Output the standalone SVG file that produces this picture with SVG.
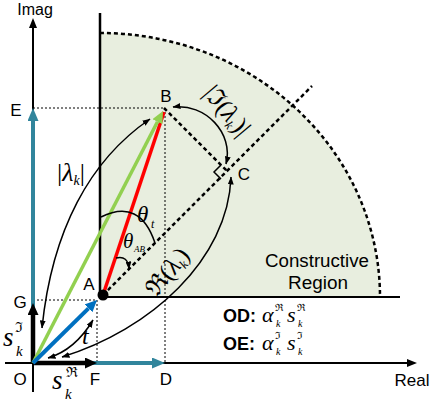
<svg xmlns="http://www.w3.org/2000/svg" width="432" height="403" viewBox="0 0 432 403">
<style>
.sans{font-family:"Liberation Sans",Arial,sans-serif;fill:#000}
.lbl{font-size:17px}
.m{font-family:"Liberation Serif","DejaVu Serif",serif;font-style:italic;fill:#000}
.fr{font-family:"DejaVu Serif","Liberation Serif",serif;font-style:normal;fill:#000}
.thin{fill:none;stroke:#000;stroke-width:1.5}
.dot{fill:none;stroke:#000;stroke-width:1;stroke-dasharray:2,2}
.dash{fill:none;stroke:#000;stroke-width:2.5;stroke-dasharray:4,3}
</style>
<defs>
<marker id="ahAxis" markerUnits="userSpaceOnUse" markerWidth="10" markerHeight="8" refX="0" refY="4" orient="auto"><path d="M0,0 L10,4 L0,8 z" fill="#000"/></marker>
<marker id="ahTeal" markerUnits="userSpaceOnUse" markerWidth="13" markerHeight="11" refX="0" refY="5.5" orient="auto"><path d="M0,0 L13,5.5 L0,11 z" fill="#31859c"/></marker>
<marker id="ahBlack" markerUnits="userSpaceOnUse" markerWidth="12" markerHeight="11" refX="0" refY="5.5" orient="auto"><path d="M0,0 L12,5.5 L0,11 z" fill="#000"/></marker>
<marker id="ahBlue" markerUnits="userSpaceOnUse" markerWidth="12" markerHeight="11" refX="0" refY="5.5" orient="auto"><path d="M0,0 L12,5.5 L0,11 z" fill="#0070c0"/></marker>
<marker id="ahGreen" markerUnits="userSpaceOnUse" markerWidth="12" markerHeight="11" refX="0" refY="5.5" orient="auto"><path d="M0,0 L12,5.5 L0,11 z" fill="#92d050"/></marker>
<marker id="ahThin" markerUnits="userSpaceOnUse" markerWidth="8" markerHeight="6" refX="7.5" refY="3" orient="auto-start-reverse"><path d="M0,0 L8,3 L0,6 z" fill="#000"/></marker>
</defs>

<g id="region">
<path d="M100,297 L100,33 A280,264 0 0 1 380,297 Z" fill="#e8eedf"/>
<path d="M100,33 A280,264 0 0 1 380,297" class="dash"/>
<line x1="100" y1="13" x2="100" y2="297" stroke="#000" stroke-width="2.5"/>
<line x1="100" y1="297" x2="400" y2="297" stroke="#000" stroke-width="2"/>
<text class="sans" x="317" y="267" font-size="18" text-anchor="middle" textLength="104" lengthAdjust="spacingAndGlyphs">Constructive</text>
<text class="sans" x="318" y="289" font-size="18" text-anchor="middle" textLength="60" lengthAdjust="spacingAndGlyphs">Region</text>
</g>

<g id="guides">
<line x1="103" y1="295" x2="312" y2="86" class="dash"/>
<line x1="164" y1="108" x2="228" y2="172" class="dash"/>
<path d="M221,165 L214,172 L221,179" fill="none" stroke="#000" stroke-width="1.5"/>
<line x1="33" y1="108" x2="164" y2="108" class="dot"/>
<line x1="165" y1="108" x2="165" y2="363" class="dot"/>
<line x1="33" y1="300" x2="97" y2="300" class="dot"/>
<line x1="97" y1="300" x2="97" y2="363" class="dot"/>
</g>

<g id="axes">
<line x1="33" y1="392" x2="33" y2="28" stroke="#000" stroke-width="2" marker-end="url(#ahAxis)"/>
<line x1="5" y1="363" x2="407" y2="363" stroke="#000" stroke-width="2" marker-end="url(#ahAxis)"/>
<text class="sans" x="35" y="15" font-size="16" text-anchor="middle">Imag</text>
<text class="sans lbl" x="412" y="386" text-anchor="middle">Real</text>
</g>

<g id="connectors">
<line x1="33" y1="363" x2="33" y2="121" stroke="#31859c" stroke-width="4" marker-end="url(#ahTeal)"/>
<line x1="33" y1="363" x2="152" y2="363" stroke="#31859c" stroke-width="4" marker-end="url(#ahTeal)"/>
<line x1="33" y1="363" x2="33" y2="315" stroke="#000" stroke-width="4.5" marker-end="url(#ahBlack)"/>
<line x1="33" y1="363" x2="85" y2="363" stroke="#000" stroke-width="4.5" marker-end="url(#ahBlack)"/>
<line x1="103" y1="295" x2="164" y2="112" stroke="#ff0000" stroke-width="3.5"/>
<line x1="33" y1="363" x2="157.5" y2="121.7" stroke="#92d050" stroke-width="3.5" marker-end="url(#ahGreen)"/>
<line x1="33" y1="363" x2="88.5" y2="308.4" stroke="#0070c0" stroke-width="4" marker-end="url(#ahBlue)"/>
<path d="M42,328 C52,230 90,160 150,119" class="thin" marker-start="url(#ahThin)" marker-end="url(#ahThin)"/>
<path d="M62,357 C150,330 228,260 231,177" class="thin" marker-start="url(#ahThin)" marker-end="url(#ahThin)"/>
<path d="M48,358 Q75,350 93,320" class="thin" marker-start="url(#ahThin)" marker-end="url(#ahThin)"/>
<path d="M173,107 C205,103 234,133 226,164" class="thin" marker-start="url(#ahThin)" marker-end="url(#ahThin)"/>
<path d="M101,217 Q140,198 155,243" class="thin"/>
<path d="M116,258 Q128,255 129,269" class="thin" marker-end="url(#ahThin)"/>
</g>

<g id="A"><circle cx="103" cy="295" r="5.5" fill="#000"/><text class="sans lbl" x="89" y="290" text-anchor="middle">A</text></g>
<g id="B"><text class="sans lbl" x="166" y="102" text-anchor="middle">B</text></g>
<g id="C"><text class="sans lbl" x="244" y="180" text-anchor="middle">C</text></g>
<g id="D"><text class="sans lbl" x="166" y="385" text-anchor="middle">D</text></g>
<g id="E"><text class="sans lbl" x="16" y="116" text-anchor="middle">E</text></g>
<g id="F"><text class="sans lbl" x="95" y="385" text-anchor="middle">F</text></g>
<g id="G"><text class="sans lbl" x="20" y="308" text-anchor="middle">G</text></g>
<g id="O"><text class="sans lbl" x="20" y="385" text-anchor="middle">O</text></g>

<g id="math">
<text class="m" x="57" y="181" font-size="26"><tspan font-style="normal">|</tspan>λ<tspan font-size="14" dy="4">k</tspan><tspan font-style="normal" dy="-4">|</tspan></text>
<text class="m" x="3" y="346" font-size="27">s</text>
<text class="fr" x="15" y="332" font-size="14">ℑ</text>
<text class="m" x="16" y="356" font-size="15">k</text>
<text class="m" x="52" y="389" font-size="27">s</text>
<text class="fr" x="66" y="377" font-size="14">ℜ</text>
<text class="m" x="65" y="399" font-size="15">k</text>
<text class="m" x="82" y="344" font-size="24">t</text>
<text class="m" x="137" y="222" font-size="23">θ</text>
<text class="m" x="151" y="228" font-size="12">t</text>
<text class="m" x="123" y="248" font-size="21">θ</text>
<text class="m" x="134" y="252" font-size="9">AB</text>
<text class="m" font-size="25" text-anchor="middle" transform="translate(174,277) rotate(-52)"><tspan class="fr">ℜ</tspan><tspan font-style="normal">(</tspan>λ<tspan font-size="13" dy="4">k</tspan><tspan font-style="normal" dy="-4">)</tspan></text>
<text class="m" font-size="25" text-anchor="middle" transform="translate(221,116) rotate(50)"><tspan font-style="normal">|</tspan><tspan class="fr">ℑ</tspan><tspan font-style="normal">(</tspan>λ<tspan font-size="13" dy="4">k</tspan><tspan font-style="normal" dy="-4">)|</tspan></text>
</g>

<g id="legend">
<text class="sans" x="223" y="322" font-size="18" font-weight="bold">OD:</text>
<text class="m" x="262" y="322" font-size="22">α</text>
<text class="fr" x="275" y="311" font-size="10">ℜ</text>
<text class="m" x="276" y="327" font-size="10">k</text>
<text class="m" x="287" y="322" font-size="22">s</text>
<text class="fr" x="297" y="311" font-size="10">ℜ</text>
<text class="m" x="298" y="327" font-size="10">k</text>
<text class="sans" x="223" y="350" font-size="18" font-weight="bold">OE:</text>
<text class="m" x="262" y="350" font-size="22">α</text>
<text class="fr" x="275" y="339" font-size="10">ℑ</text>
<text class="m" x="276" y="355" font-size="10">k</text>
<text class="m" x="287" y="350" font-size="22">s</text>
<text class="fr" x="297" y="339" font-size="10">ℑ</text>
<text class="m" x="298" y="355" font-size="10">k</text>
</g>
</svg>
